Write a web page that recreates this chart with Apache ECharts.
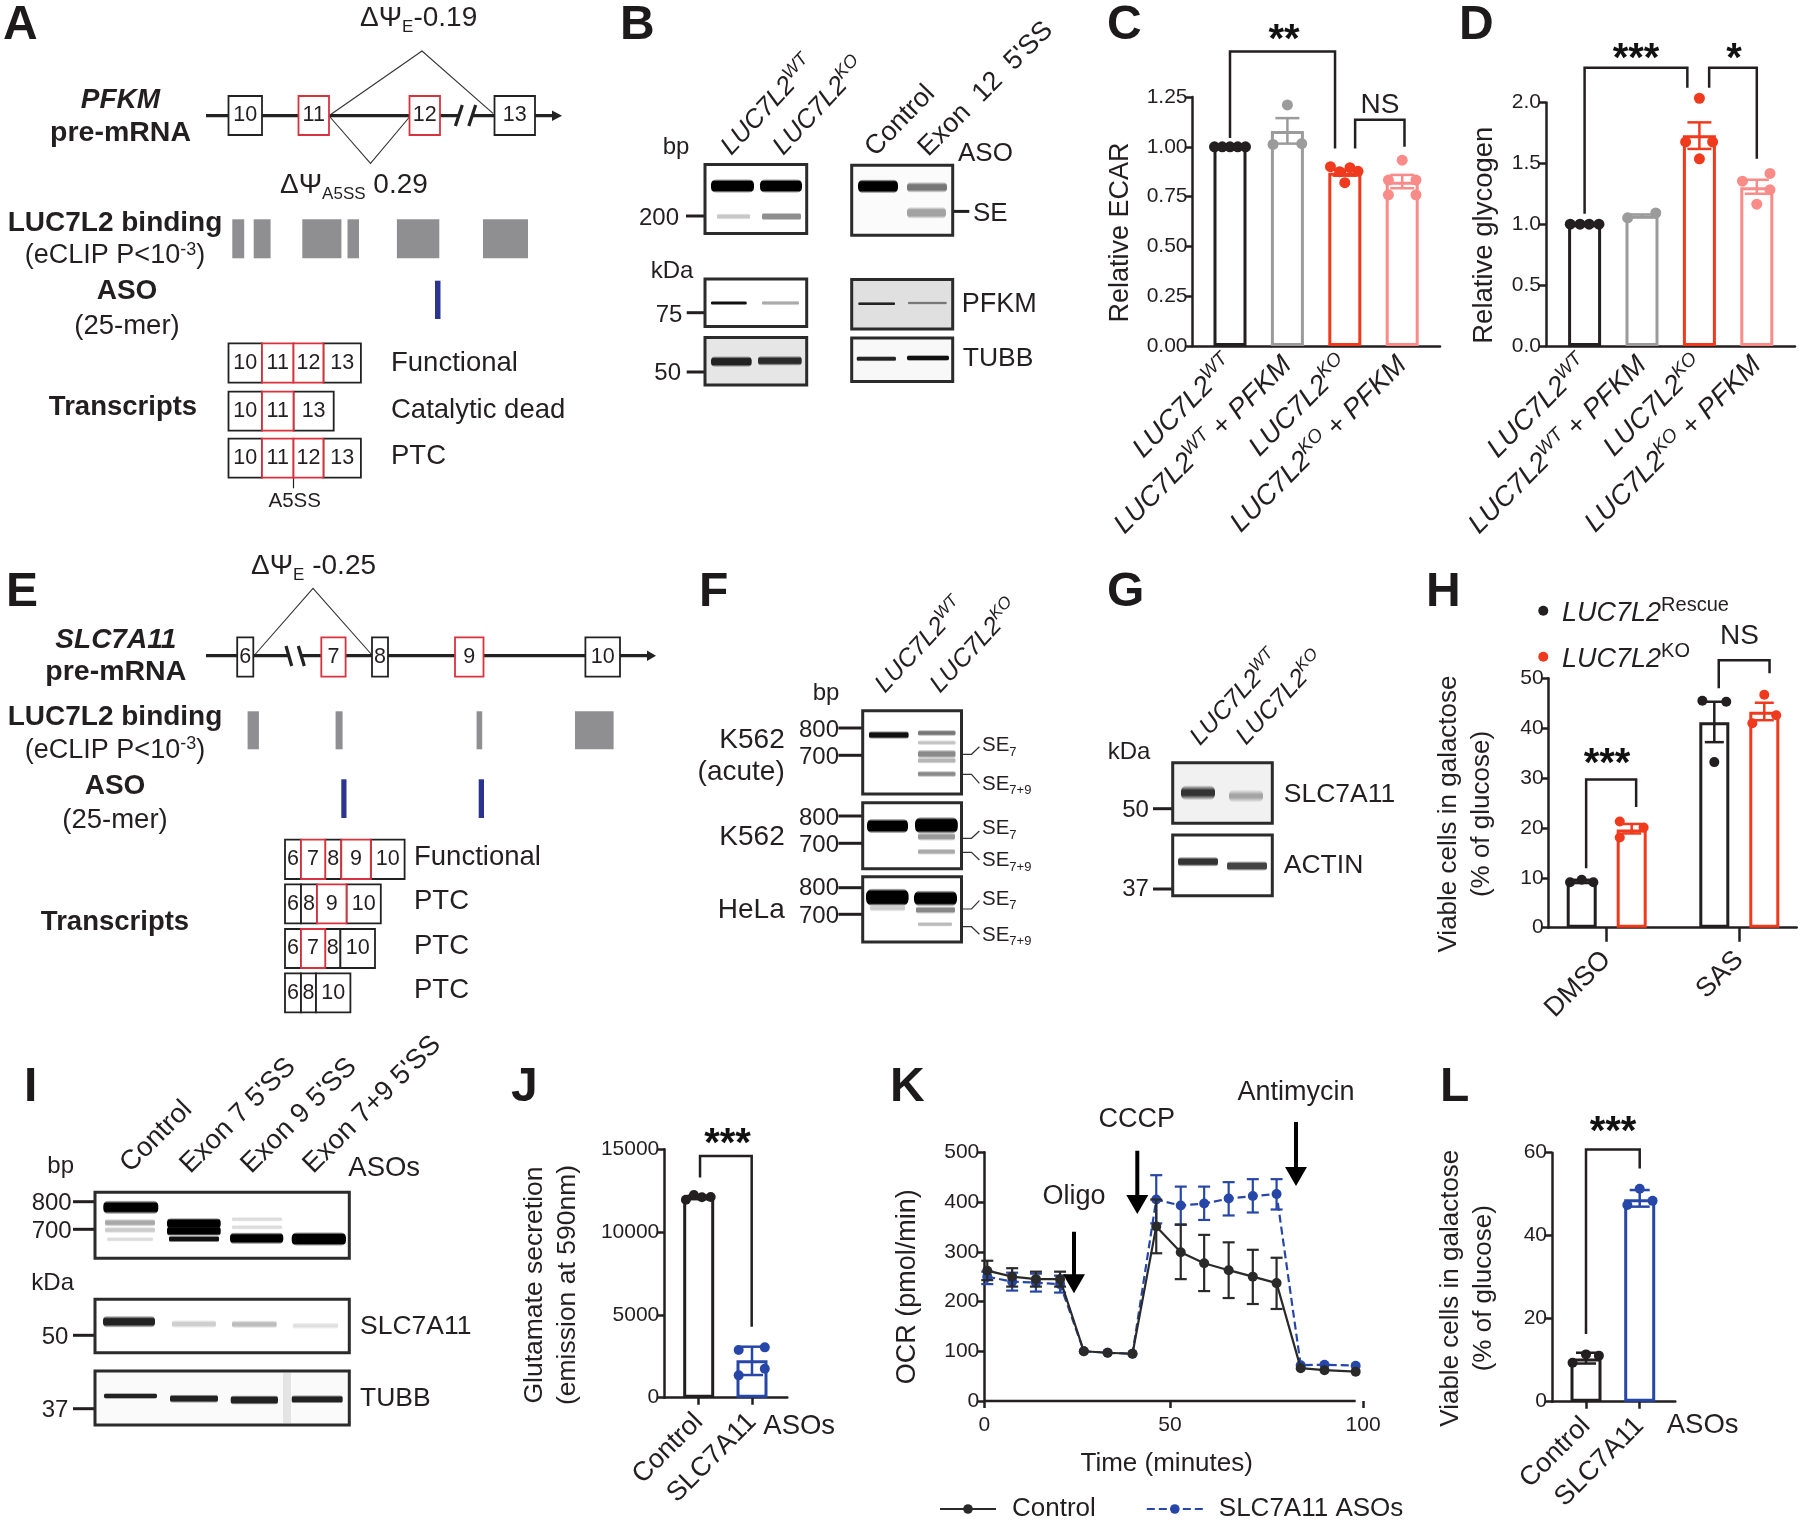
<!DOCTYPE html>
<html><head><meta charset="utf-8"><style>html,body{margin:0;padding:0;background:#fff}#c{width:1800px;height:1526px}</style>
<script src="https://cdn.jsdelivr.net/npm/echarts@6/dist/echarts.min.js"></script></head><body><div id="c"></div>
<script>
// ---------- DATA ----------
const cCats=['{i|LUC7L2}{s|WT}','{i|LUC7L2}{s|WT}{i| + PFKM}','{i|LUC7L2}{s|KO}','{i|LUC7L2}{s|KO}{i| + PFKM}'];
const cMeans=[1.0,1.079,0.87,0.825];
const cErrLow=[null,1.016,0.855,0.792];
const cErrHigh=[null,1.144,0.885,0.859];
const cDots=[[1,1,1,1,1],[1.21,1.012,1.016],[0.90,0.875,0.82,0.895,0.877],[0.933,0.833,0.833,0.759,0.759]];
const cJitter=[[-.27,-.135,0,.135,.27],[0,-.25,.25],[-.25,-.09,0,.09,.23],[0,-.24,.24,-.24,.24]];
const dMeans=[1.0,1.07,1.73,1.304];
const dErrLow=[null,1.06,1.618,1.25];
const dErrHigh=[null,1.08,1.836,1.365];
const dDots=[[1,1,1,1],[1.052,1.092],[2.034,1.675,1.675,1.537],[1.417,1.353,1.282,1.164]];
const dJitter=[[-.25,-.08,.08,.25],[-.25,.24],[0,-.24,.23,0],[.23,-.25,.23,0]];
const hCats=['DMSO','SAS'];
const hMeans=[[9.3,19.7],[41.2,43.3]];
const hErrLow=[[9.0,18.9],[37.2,41.6]];
const hErrHigh=[[9.6,20.8],[45.3,45.1]];
const hDots=[[[9.1,9.6,9.1],[21.3,20.1,18.1]],[[45.5,45.3,33.2],[46.7,42.6,41.0]]];
const hJitter=[[[-.088,0,.088],[-.09,.09,-.09]],[[-.09,.09,0],[0,.09,-.09]]];
const jCats=['Control','SLC7A11'];
const jMeans=[12100,2255];
const jErrLow=[12000,1370];
const jErrHigh=[12200,3080];
const jDots=[[11950,12240,12100,12120],[3040,2880,1750,1350]];
const jJitter=[[-.24,-.09,.06,.225],[.24,-.25,.24,-.25]];
const lCats=['Control','SLC7A11'];
const lMeans=[10.4,48.8];
const lErrLow=[9.2,47];
const lErrHigh=[11.8,51];
const lDots=[[11.4,11.1,9.4],[51.3,48.4,47.4]];
const lJitter=[[0,.24,-.25],[0,.24,-.23]];
const kTime=[0.8,7.5,13.9,20.4,26.8,33.2,39.9,46.3,52.9,59.2,65.8,72.3,78.7,85.2,91.6,100];
const kControl=[262,250,245,245,100,97,95,351,299,277,263,250,237,66,62,59];
const kControlLow=[243,230,230,230,null,null,null,297,245,221,207,195,185,null,null,null];
const kControlHigh=[282,267,260,260,null,null,null,405,355,334,319,304,288,null,null,null];
const kAso=[250,240,238,235,100,97,95,405,393,397,407,412,416,72,73,71];
const kAsoLow=[235,222,220,218,null,null,null,357,354,364,373,379,385,null,null,null];
const kAsoHigh=[260,258,256,252,null,null,null,454,431,431,440,446,446,null,null,null];
const kSeriesNames=['Control','SLC7A11 ASOs'];

// ---------- STYLE ----------
const FONT='"Liberation Sans",Arial,sans-serif';
const INK='#231f20', RED='#ef3a1d', PINK='#f98b88', GREY='#9b9b9b', BLUE='#2747a8', NAVY='#2b3590', EXON_RED='#d9323f', BLOCK='#8f8f92';
const grids=[],xAxes=[],yAxes=[],series=[],g=[];
const labelRich={
  i:{fontStyle:'italic',fontSize:27.5,fontFamily:FONT,color:INK},
  s:{fontStyle:'italic',fontSize:19,fontFamily:FONT,color:INK,padding:[0,0,15,0]},
  n:{fontSize:27,fontFamily:FONT,color:INK}
};
function polySeries(ax,polys,color,width){
  series.push({type:'custom',xAxisIndex:ax,yAxisIndex:ax,silent:true,z:5,coordinateSystem:'cartesian2d',clip:false,
    data:polys.map(p=>p[0]),
    renderItem:(params,api)=>({type:'polyline',shape:{points:polys[params.dataIndex].map(p=>api.coord(p))},
      style:{stroke:color||INK,lineWidth:width||2.5,fill:null}})});
}
function errSeries(ax,rows,color,capHalf,width,z){
  series.push({type:'custom',xAxisIndex:ax,yAxisIndex:ax,silent:true,z:z||3,clip:false,data:rows,
    renderItem:(params,api)=>{
      const a=api.coord([api.value(0),api.value(1)]),b=api.coord([api.value(0),api.value(2)]);
      const st={stroke:color,lineWidth:width||2.5,fill:null};
      return {type:'group',children:[
        {type:'line',shape:{x1:a[0],y1:a[1],x2:b[0],y2:b[1]},style:st},
        {type:'line',shape:{x1:a[0]-capHalf,y1:a[1],x2:a[0]+capHalf,y2:a[1]},style:st},
        {type:'line',shape:{x1:b[0]-capHalf,y1:b[1],x2:b[0]+capHalf,y2:b[1]},style:st}]};
    }});
}
function panel(o){
  const ax=grids.length;
  grids.push({left:o.left,top:o.top,width:o.right-o.left,height:o.bottom-o.top});
  xAxes.push({gridIndex:ax,type:'value',min:(o.left-o.first)/o.spacing,max:(o.right-o.first)/o.spacing,splitLine:{show:false},
    axisLine:{onZero:false,lineStyle:{color:INK,width:2.5}},
    axisTick:{show:!!o.tickLen,length:o.tickLen||0,customValues:o.cats.map((c,i)=>i),lineStyle:{color:INK,width:2.5}},
    axisLabel:{customValues:o.cats.map((c,i)=>i),rotate:o.rot||45,margin:o.margin||10,interval:0,hideOverlap:false,
      fontSize:27,fontFamily:FONT,color:INK,rich:labelRich,formatter:v=>o.cats[Math.round(v)]}});
  yAxes.push({gridIndex:ax,type:'value',min:0,max:o.ymax,interval:o.step,splitLine:{show:false},
    name:o.title,nameLocation:'middle',nameGap:o.gap,nameRotate:90,
    nameTextStyle:{fontSize:o.titleSize||26,fontFamily:FONT,color:INK,lineHeight:33,padding:[0,o.titleShift||0,0,0]},
    axisLine:{show:true,onZero:false,lineStyle:{color:INK,width:2.5}},
    axisTick:{show:true,length:7,lineStyle:{color:INK,width:2.5}},
    axisLabel:{fontSize:21,fontFamily:FONT,color:INK,margin:5,formatter:v=>o.dec?v.toFixed(o.dec):String(v)}});
  return ax;
}
function bars(ax,pts,colors,width){
  series.push({type:'bar',xAxisIndex:ax,yAxisIndex:ax,barWidth:width,silent:true,z:2,
    itemStyle:{color:'#fff',borderWidth:3},
    data:pts.map((p,i)=>({value:p,itemStyle:{color:'#fff',borderColor:colors[i],borderWidth:3}}))});
}
function dots(ax,pts,size){
  series.push({type:'scatter',xAxisIndex:ax,yAxisIndex:ax,symbolSize:size,silent:true,z:4,clip:false,
    data:pts.map(p=>({value:[p[0],p[1]],itemStyle:{color:p[2],opacity:1}}))});
}
// simple one-factor bar panel
function simple(o,means,low,high,vals,jit,colors,size,cap){
  const ax=panel(o);
  bars(ax,means.map((m,i)=>[i,m]),colors,o.barW);
  means.forEach((m,i)=>{ if(low[i]!=null) errSeries(ax,[[i,low[i],high[i]]],colors[i],cap); });
  const pts=[]; vals.forEach((v,i)=>v.forEach((y,j)=>pts.push([i+jit[i][j],y,colors[i]])));
  dots(ax,pts,size);
  return ax;
}
const axC=simple({left:1192.5,right:1440,top:97,bottom:346,first:1230,spacing:57.4,cats:cCats,ymax:1.25,step:.25,dec:2,title:'Relative ECAR',titleSize:27,gap:55,titleShift:22,barW:33,margin:15},
  cMeans,cErrLow,cErrHigh,cDots,cJitter,[INK,GREY,RED,PINK],11,12);
polySeries(axC,[[[0,1.044],[0,1.479],[1.83,1.479],[1.83,.991]],[[2.18,.991],[2.18,1.136],[3.04,1.136],[3.04,1.0]]]);
const axD=simple({left:1546,right:1795,top:102.4,bottom:346,first:1584.6,spacing:57.4,cats:cCats,ymax:2,step:.5,dec:1,title:'Relative glycogen',titleSize:27.5,gap:45,titleShift:22,barW:33,margin:15},
  dMeans,dErrLow,dErrHigh,dDots,dJitter,[INK,GREY,RED,PINK],11,12);
polySeries(axD,[[[0,1.086],[0,2.284],[1.79,2.284],[1.79,2.12]],[[2.17,2.12],[2.17,2.284],[3,2.284],[3,1.537]]]);
// H grouped bars
const hOffset=.1885;
const axH=panel({left:1548.7,right:1796.7,top:678.3,bottom:927.7,first:1606.7,spacing:132.6,cats:hCats.map(c=>'{n|'+c+'}'),ymax:50,step:10,
  title:'Viable cells in galactose\n(% of glucose)',gap:50,titleShift:22,tickLen:14,margin:28});
{ const pts=[],cols=[],dp=[],groupCol=[INK,RED];
  hMeans.forEach((gr,i)=>gr.forEach((m,s)=>{const x=i+(s?hOffset:-hOffset);pts.push([x,m]);cols.push(groupCol[s]);
    hDots[i][s].forEach((y,j)=>dp.push([x+hJitter[i][s][j],y,groupCol[s]]));}));
  bars(axH,pts,cols,30);
  hMeans.forEach((gr,i)=>gr.forEach((m,s)=>errSeries(axH,[[i+(s?hOffset:-hOffset),hErrLow[i][s],hErrHigh[i][s]]],groupCol[s],9.5)));
  dots(axH,dp,10);
  polySeries(axH,[[[-.155,11.9],[-.155,29.7],[.222,29.7],[.222,24.2]],[[.845,48.0],[.845,53.6],[1.228,53.6],[1.228,51]]]);
}
const axJ=simple({left:664.3,right:787.3,top:1149.3,bottom:1397.7,first:698.7,spacing:53.3,cats:jCats.map(c=>'{n|'+c+'}'),ymax:15000,step:5000,
  title:'Glutamate secretion\n(emission at 590nm)',titleSize:26.5,gap:80,titleShift:23,barW:31,tickLen:7,margin:20},
  jMeans,jErrLow,jErrHigh,jDots,jJitter,[INK,BLUE],10,11);
polySeries(axJ,[[[.025,13290],[.025,14600],[.994,14600],[.994,4290]]]);
const axL=simple({left:1552,right:1675.3,top:1152.7,bottom:1401.7,first:1586,spacing:53.7,cats:lCats.map(c=>'{n|'+c+'}'),ymax:60,step:20,
  title:'Viable cells in galactose\n(% of glucose)',gap:52,titleShift:22,barW:31,tickLen:7,margin:20},
  lMeans,lErrLow,lErrHigh,lDots,lJitter,[INK,BLUE],10,10);
polySeries(axL,[[[0,16.3],[0,60.8],[1,60.8],[1,56.2]]]);
// K line chart; the reference draws its "100" tick a little past the axis end
const kShiftedTick=102;
{ const ax=grids.length;
  grids.push({left:984.3,top:1152.3,width:378.8,height:248.7});
  xAxes.push({gridIndex:ax,type:'value',min:0,max:kShiftedTick,splitLine:{show:false},
    name:'Time (minutes)',nameLocation:'middle',nameGap:50,nameTextStyle:{fontSize:26,fontFamily:FONT,color:INK,padding:[0,14,0,0]},
    axisLine:{show:false},axisTick:{show:true,length:7,customValues:[0,50,kShiftedTick],lineStyle:{color:INK,width:2.5}},
    axisLabel:{customValues:[0,50,kShiftedTick],margin:14,fontSize:21,fontFamily:FONT,color:INK,formatter:v=>v===kShiftedTick?'100':String(v)}});
  yAxes.push({gridIndex:ax,type:'value',min:0,max:500,interval:100,splitLine:{show:false},
    name:'OCR (pmol/min)',nameLocation:'middle',nameGap:63,nameRotate:90,
    nameTextStyle:{fontSize:27,fontFamily:FONT,color:INK,padding:[0,20,0,0]},
    axisLine:{show:true,onZero:false,lineStyle:{color:INK,width:2.5}},axisTick:{show:true,length:7,lineStyle:{color:INK,width:2.5}},
    axisLabel:{fontSize:21,fontFamily:FONT,color:INK,margin:5}});
  polySeries(ax,[[[0,0],[100,0]]]);
  const rows=(lo,hi)=>kTime.map((t,i)=>lo[i]==null?null:[t,lo[i],hi[i]]).filter(Boolean);
  errSeries(ax,rows(kAsoLow,kAsoHigh),BLUE,6,2.2,6);
  series.push({type:'line',name:kSeriesNames[1],xAxisIndex:ax,yAxisIndex:ax,z:7,symbol:'circle',symbolSize:10,showSymbol:true,
    itemStyle:{color:BLUE},lineStyle:{color:BLUE,width:2.2,type:[8,4]},data:kTime.map((t,i)=>[t,kAso[i]])});
  errSeries(ax,rows(kControlLow,kControlHigh),'#2a2a2a',6,2.2,8);
  series.push({type:'line',name:kSeriesNames[0],xAxisIndex:ax,yAxisIndex:ax,z:9,symbol:'circle',symbolSize:10,showSymbol:true,
    itemStyle:{color:'#2a2a2a'},lineStyle:{color:'#2a2a2a',width:2.2},data:kTime.map((t,i)=>[t,kControl[i]])});
}

// ---------- ANNOTATION HELPERS ----------
function T(text,x,y,o){o=o||{};
  const st={text,fontSize:o.size||26,fontFamily:FONT,fill:o.fill||INK,align:o.align||'left',verticalAlign:'middle',
    fontWeight:o.bold?'bold':'normal',fontStyle:o.italic?'italic':'normal'};
  if(o.rich)st.rich=o.rich;
  const e={type:'text',x,y,z:20,silent:true,style:st};
  if(o.rot)e.rotation=o.rot*Math.PI/180;
  g.push(e);
}
function richFor(size,subSize,supShift,subShift){
  return {i:{fontStyle:'italic',fontSize:size,fontFamily:FONT,fill:INK},
    n:{fontSize:size,fontFamily:FONT,fill:INK},
    sup:{fontStyle:'italic',fontSize:subSize,fontFamily:FONT,fill:INK,padding:[0,0,supShift,0]},
    sub:{fontSize:subSize,fontFamily:FONT,fill:INK,padding:[subShift,0,0,0]}};
}
const R25=richFor(26,18,14,14), R24=richFor(25,17,14,14), R27=richFor(28,17,14,18), R20=richFor(20.5,13,10,13);
const plainSup={fontSize:18,fontFamily:FONT,fill:INK,padding:[0,0,12,0]};
const rect=(x1,y1,x2,y2,fill,stroke,lw,z)=>g.push({type:'rect',z:z||10,silent:true,shape:{x:x1,y:y1,width:x2-x1,height:y2-y1},
  style:{fill:fill||'none',stroke:stroke||null,lineWidth:lw||0}});
const line=(pts,color,lw,z)=>g.push({type:'polyline',z:z||10,silent:true,shape:{points:pts},style:{stroke:color||INK,lineWidth:lw||1.2,fill:null}});
const poly=(pts,fill,z)=>g.push({type:'polygon',z:z||10,silent:true,shape:{points:pts},style:{fill:fill||INK}});
const gel=(x1,y1,x2,y2,bg)=>rect(x1,y1,x2,y2,bg||'#fff',null,0,11);
const gelEdge=(x1,y1,x2,y2)=>rect(x1,y1,x2,y2,'none','#2b2b2b',3,16);
function box(x1,y1,x2,y2,bg){gel(x1,y1,x2,y2,bg);gelEdge(x1,y1,x2,y2);}
// soft-edged gel band: a vertical gradient that fades out, with rounded ends
function band(x1,x2,y,h,color,blur){
  blur=blur==null?2.5:blur;
  const H=h+2*blur, f=blur/H;
  const col=echarts.color.parse?echarts.color.parse(color):[0,0,0,1];
  const clear='rgba('+col[0]+','+col[1]+','+col[2]+',0)';
  g.push({type:'rect',z:13,silent:true,shape:{x:x1,y:y-H/2,width:x2-x1,height:H,r:H/2.5},
    style:{fill:new echarts.graphic.LinearGradient(0,0,0,1,[{offset:0,color:clear},{offset:Math.min(f,.49),color},{offset:1-Math.min(f,.49),color},{offset:1,color:clear}])}});
}
const tick=(x1,x2,y)=>line([[x1,y],[x2,y]],INK,3,12);
function exon(x1,x2,y1,y2,label,red,size){
  rect(x1,y1,x2,y2,'#fff',red?EXON_RED:'#222',1.8,red?12:11);
  if(label)T(label,(x1+x2)/2,(y1+y2)/2,{size:size||21.5,align:'center'});
}
function row(xs,y1,y2,labels,reds){
  labels.forEach((l,i)=>{ if(!reds.includes(i)) exon(xs[i],xs[i+1],y1,y2,l,false); });
  labels.forEach((l,i)=>{ if(reds.includes(i)) exon(xs[i],xs[i+1],y1,y2,l,true); });
}
function arrowDown(x,y1,y2){
  poly([[x-2,y1],[x+2,y1],[x+2,y2-19],[x+11,y2-19],[x,y2],[x-11,y2-19],[x-2,y2-19]],'#000');
}
// panel letters
[['A',3,26],['B',620,26],['C',1107,26],['D',1459,26],['E',6,593],['F',699,593],['G',1107,593],['H',1426,593],['I',24,1088],['J',511,1088],['K',890,1088],['L',1440,1088]]
 .forEach(p=>T(p[0],p[1],p[2],{size:48,bold:true,fill:'#1c1a1a'}));

// ---------- A ----------
line([[206,115.7],[459,115.7]],'#222',3.2,9);line([[472,115.7],[553,115.7]],'#222',3.2,9);
poly([[552,110.5],[562,115.7],[552,121]],'#222');
line([[455.4,126],[462.3,105]],'#222',3.2);line([[468.8,126],[475.7,105]],'#222',3.2);
exon(228.5,262,96,135,'10');exon(298.5,329,96,135,'11',true);exon(409.5,440,96,135,'12',true);exon(494.5,535,96,135,'13');
line([[330,115],[422,51],[493,113.3]],'#333',1.1,10);line([[330,117],[370.5,163.3],[409.5,117]],'#333',1.1,10);
T('{n|ΔΨ}{sub|E}{n|-0.19}',360,18,{rich:R27,size:28});
T('{n|ΔΨ}{sub|A5SS}{n| 0.29}',280,185,{rich:R27,size:28});
T('PFKM',120.5,100,{size:28,bold:true,italic:true,align:'center'});
T('pre-mRNA',120.5,133.5,{size:28.5,bold:true,align:'center'});
T('LUC7L2 binding',115,223.5,{size:28,bold:true,align:'center'});
T('{n|(eCLIP P<10}{sup|-3}{n|)}',115,256,{rich:{...richFor(27,18,14,14),sup:plainSup},size:27,align:'center'});
T('ASO',127,291.5,{size:28,bold:true,align:'center'});
T('(25-mer)',127,326,{size:27.5,align:'center'});
T('Transcripts',123,407.5,{size:27.5,bold:true,align:'center'});
[[232.3,244.2],[253.7,270.6],[302.3,341.4],[347.5,359],[396.9,439.3],[483,528]].forEach(b=>rect(b[0],219.3,b[1],258.3,BLOCK));
rect(435,280.7,440.5,319,NAVY);
row([228.5,262,293.5,323.4,360.9],343.3,382.7,['10','11','12','13'],[1,2]);
row([228.5,262,293.5,333.7],391.7,430.7,['10','11','13'],[1]);
row([228.5,262,293.5,323.4,360.9],438.7,477.7,['10','11','12','13'],[1,2]);
line([[293.5,477.7],[293.5,488.3]],'#222',1.2);
T('A5SS',294.7,501.5,{size:20.5,align:'center'});
T('Functional',391,363.5,{size:27.5});T('Catalytic dead',391,410,{size:27.5});T('PTC',391,456,{size:27.5});

// ---------- E ----------
line([[206,655.7],[288,655.7]],'#222',3.2,9);line([[302,655.7],[647,655.7]],'#222',3.2,9);
poly([[647,650.5],[656,655.7],[647,661]],'#222');
line([[286,646],[291.7,666]],'#222',3.2);line([[298.3,646],[304.3,666]],'#222',3.2);
exon(237.2,253.3,637.3,676.7,'6');exon(321.3,345.6,637.3,676.7,'7',true);exon(372,388,637.3,676.7,'8');exon(455,483.5,637.3,676.7,'9',true);exon(585.4,620,637.3,676.7,'10');
line([[254.6,655],[313,588.3],[372,655]],'#333',1.1,10);
T('{n|ΔΨ}{sub|E}{n| -0.25}',251,566,{rich:R27,size:28});
T('SLC7A11',115.8,640,{size:28,bold:true,italic:true,align:'center'});
T('pre-mRNA',115.8,672.5,{size:28.5,bold:true,align:'center'});
T('LUC7L2 binding',115,717,{size:28,bold:true,align:'center'});
T('{n|(eCLIP P<10}{sup|-3}{n|)}',115,750.3,{rich:{...richFor(27,18,14,14),sup:plainSup},size:27,align:'center'});
T('ASO',115,786,{size:28,bold:true,align:'center'});
T('(25-mer)',115,820,{size:27.5,align:'center'});
T('Transcripts',115,922,{size:27.5,bold:true,align:'center'});
[[247.6,258.9],[335.6,342.6],[476.6,482.2],[575,613.6]].forEach(b=>rect(b[0],711.3,b[1],749.3,BLOCK));
rect(341.3,779.3,346.5,818,NAVY);rect(478.7,779.3,484,818,NAVY);
row([285,301,325.2,341.3,370.8,404.6],839.7,879,['6','7','8','9','10'],[1,3]);
row([285,301,317,346.5,380.8],884.3,923.3,['6','8','9','10'],[2]);
row([285,301,325.2,340.4,375],929,968,['6','7','8','10'],[1]);
row([285,301,316,350.4],973.3,1012.3,['6','8','10'],[]);
T('Functional',414,857.5,{size:27.5});T('PTC',414,901.5,{size:27.5});T('PTC',414,946.5,{size:27.5});T('PTC',414,990,{size:27.5});

// ---------- B ----------
T('{i|LUC7L2}{sup|WT}',726,151,{rich:R25,rot:47});
T('{i|LUC7L2}{sup|KO}',778,151,{rich:R25,rot:47});
T('Control',870,152,{rot:46,size:27});
T("Exon  12  5'SS",923,152,{rot:45,size:27});
T('bp',676,147,{size:24,align:'center'});T('200',659,218,{size:24,align:'center'});tick(686,705,216);
T('ASO',958,154,{size:26});T('SE',973,214,{size:26});tick(952.7,969.3,211.4);
T('kDa',672,271,{size:24,align:'center'});T('75',669,315,{size:24,align:'center'});tick(686.7,705,312.7);
T('50',667.7,373,{size:24,align:'center'});tick(686.7,705,372);
T('PFKM',961.7,304.5,{size:27});T('TUBB',962.7,359,{size:26.5});
box(705,164.6,806.7,233.5);band(711,754,186,9,'#000');band(760,802,186,9,'#000');band(717,750,216.5,2.5,'#c8c8c8',2);band(762,801,216.5,4,'#8f8f8f',2);
box(851.7,165.3,952.7,235.2,'#fbfbfb');band(858,898,186.3,9,'#000');band(907,947,187.3,5,'#777',3);band(907,946,212.8,6,'#a3a3a3',3);
box(705,279,806.7,326.4);band(711,746.7,303,2,'#111',1);band(762,799,303,1.8,'#aaa',1.5);
box(851.7,279.6,952.7,329,'#e0e0e0');band(858.3,895,303.7,1.6,'#222',1);band(908,946.7,303,1.4,'#777',1);
box(705,337.5,806.7,385,'#e6e6e6');band(711,751.7,361.6,6,'#222',2.5);band(758,801.7,360.8,5,'#2a2a2a',2.5);
box(851.7,338,952.7,381.5,'#f8f8f8');band(856.7,896,358.8,2.5,'#222',1.5);band(907,949,358,3,'#111',1.5);

// ---------- F ----------
T('{i|LUC7L2}{sup|WT}',880,689,{rich:R24,rot:47});T('{i|LUC7L2}{sup|KO}',935,689,{rich:R24,rot:47});
T('bp',826,693.5,{size:24,align:'center'});
[[730,728,'800'],[757,755.3,'700'],[818,816,'800'],[845,843.3,'700'],[888,887.7,'800'],[916,914.3,'700']].forEach(r=>{T(r[2],819,r[0],{size:24,align:'center'});tick(838.4,862.7,r[1]);});
T('K562',784.7,740,{size:28,align:'right'});T('(acute)',784.7,772.7,{size:28,align:'right'});T('K562',784.7,837,{size:28,align:'right'});T('HeLa',784.7,910.3,{size:28,align:'right'});
[[754.3,746.7,745.5,'7'],[838.3,831,828.5,'7'],[909,900.7,899,'7'],[774.3,783.3,784,'7+9'],[852.3,860,860.7,'7+9'],[926.7,934.3,935,'7+9']].forEach(r=>{
  line([[961.5,r[0]],[971.5,r[0]],[979.4,r[1]]],'#333',1.2,12);
  T('{n|SE}{sub|'+r[3]+'}',982,r[2],{rich:R20,size:20.5});
});
box(862.7,710.7,961.5,794);band(869,908.6,735,4,'#111',2);band(918,955.5,733,2.5,'#777',2);band(918,955.5,742.7,1.5,'#c4c4c4',2);band(918,955.5,754,4,'#8a8a8a',2.5);band(918,955.5,760.5,2.5,'#b5b5b5',2);band(918,955.5,774,2.5,'#8a8a8a',2);
box(862.7,802.7,961.5,868.7);band(867,908,826,9,'#000',3);band(915,957.8,825.3,11,'#000',3);band(918,955,836.7,3.5,'#999',2.5);band(918,955,851.7,2.5,'#aaa',2);
box(862.7,876.7,961.5,942);band(866,908.6,897.3,12,'#000',3);band(870,905,908,2.5,'#ccc',2.5);band(914,957,898.3,10,'#000',3);band(916,955,910,3,'#888',2.5);band(918,952,924.3,2,'#bbb',1.5);

// ---------- G ----------
T('{i|LUC7L2}{sup|WT}',1195,741.5,{rich:R24,rot:47});T('{i|LUC7L2}{sup|KO}',1241,741,{rich:R24,rot:47});
T('kDa',1129,752.5,{size:24,align:'center'});T('50',1135.5,810,{size:24,align:'center'});tick(1153,1172.7,808.7);T('37',1135.5,889,{size:24,align:'center'});tick(1153,1172.7,889);
T('SLC7A11',1283.8,795,{size:26.5});T('ACTIN',1283.8,866,{size:26.5});
box(1172.7,762.7,1272.3,823.3,'#f1f1f1');band(1181,1215,792.7,5,'#333',5);band(1229,1263,796,3,'#a5a5a5',5);
box(1172.7,835,1272.3,895.7);band(1178,1218,861.7,5,'#333',2.5);band(1227,1267,866,5,'#444',2.5);

// ---------- I ----------
T('Control',125,1168,{rot:45,size:27.5});T("Exon 7 5'SS",185,1169,{rot:45,size:27.5});T("Exon 9 5'SS",246,1169,{rot:45,size:27.5});T("Exon 7+9 5'SS",308,1169,{rot:45,size:27.5});
T('ASOs',348.3,1168.5,{size:27.5});T('bp',60.7,1166.5,{size:24,align:'center'});
T('800',51.7,1203,{size:24,align:'center'});tick(73,95,1201.7);T('700',51.7,1231,{size:24,align:'center'});tick(73,95,1229.3);
T('kDa',52.7,1283,{size:24,align:'center'});T('50',55,1337,{size:24,align:'center'});tick(73,95,1335.3);T('37',55,1410,{size:24,align:'center'});tick(73,95,1408.7);
T('SLC7A11',360,1327,{size:26.5});T('TUBB',360,1398.5,{size:26.5});
box(95,1192.3,349.3,1258.3);band(103.3,158.3,1207.3,8,'#000',3);band(105,155,1222.7,3,'#a8a8a8',2.5);band(105,155,1230,2.5,'#ccc',2);band(107,153,1239.3,2,'#ddd',1.5);
band(167,220.7,1223.5,7,'#000',2);band(167,220.7,1231,6,'#000',2);band(169,219,1239,3,'#111',2);
band(232,282,1219.3,2,'#ddd',1.5);band(232,282,1227.3,2,'#ddd',1.5);band(230,283.3,1238.3,7,'#000',2.5);band(291.7,346,1239,9,'#000',2.5);
box(95,1299.3,349.3,1352.7);band(103,155,1321.7,6,'#222',3);band(172,216,1324,3,'#cfcfcf',2.5);band(232,276.7,1324.3,3,'#bdbdbd',2.5);band(293,338,1325.7,2,'#e0e0e0',2.5);
box(95,1371,349.3,1425,'#fafafa');rect(283,1373,291,1423,'#e4e4e4',null,0,12);band(104,157,1396,3,'#222',1.5);band(170,218,1398.7,4.5,'#222',2);band(230.7,278,1400,5.5,'#222',2);band(291.7,342.7,1399.3,4.5,'#222',2);

// ---------- bracket labels ----------
const stars=(s,x,y)=>T(s,x,y,{size:40,bold:true,align:'center',fill:'#111'});
stars('**',1284,41);T('NS',1380,105,{size:28,align:'center'});stars('***',1636,60);stars('*',1734,60);
stars('***',1607,765);T('NS',1739.5,636,{size:28,align:'center'});
stars('***',727.5,1145);stars('***',1613,1133);
T('ASOs',763.3,1426,{size:27.5});T('ASOs',1666.7,1425,{size:27.5});
// H legend
g.push({type:'circle',z:20,silent:true,shape:{cx:1543.3,cy:610.7,r:5},style:{fill:INK}});
g.push({type:'circle',z:20,silent:true,shape:{cx:1543.3,cy:656.7,r:5},style:{fill:RED}});
const legendRich={i:{fontStyle:'italic',fontSize:27,fontFamily:FONT,fill:INK},rs:{fontSize:20,fontFamily:FONT,fill:INK,padding:[0,0,15,0]}};
T('{i|LUC7L2}{rs|Rescue}',1562,613,{rich:legendRich});
T('{i|LUC7L2}{rs|KO}',1562,659,{rich:legendRich});
// K drug annotations
T('Oligo',1074,1197,{size:27,align:'center'});T('CCCP',1136.7,1120,{size:27,align:'center'});T('Antimycin',1296,1092.7,{size:27,align:'center'});
arrowDown(1074,1231.7,1293.3);arrowDown(1137.3,1150.7,1214);arrowDown(1296,1122,1186);

const chart=echarts.init(document.getElementById('c'),null,{renderer:'canvas',width:1800,height:1526});
chart.setOption({backgroundColor:'#fff',animation:false,tooltip:{show:false},grid:grids,xAxis:xAxes,yAxis:yAxes,series,graphic:{elements:g},
  legend:{show:true,left:934,top:1491,itemWidth:56,itemHeight:12,itemGap:50,data:kSeriesNames,selectedMode:false,
    textStyle:{fontSize:26,fontFamily:FONT,color:INK,padding:[0,0,0,11]}}});
</script></body></html>
